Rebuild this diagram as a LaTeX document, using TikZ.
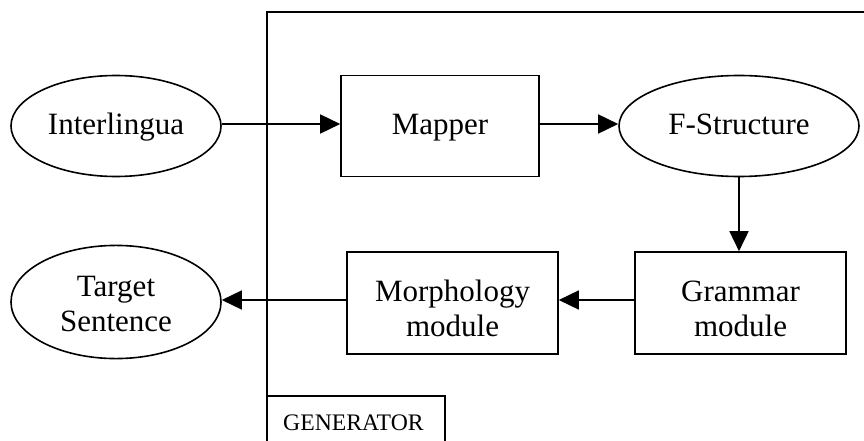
\documentclass[tikz,border=0pt]{standalone}
\usepackage{fontspec}
\setmainfont{Liberation Serif}
\usetikzlibrary{shapes.geometric,arrows.meta}
\newcommand{\twol}[2]{\begin{tabular}[t]{@{}c@{}}#1\\#2\end{tabular}}
\tikzset{
  every node/.style={font=\fontsize{31}{35}\selectfont, inner sep=0pt},
  oneline/.style={text height=22pt, text depth=4pt},
  twoline/.style={text height=36pt, text depth=40pt},
  ell/.style={draw, ellipse, line width=1.6pt},
  boxnode/.style={draw, rectangle, line width=1.6pt},
  conn/.style={line width=1.6pt, -{Triangle[length=20pt,width=19pt]}},
  frame/.style={line width=1.6pt}
}
\begin{document}
\begin{tikzpicture}[x=1pt,y=-1pt]
\useasboundingbox (0,0) rectangle (864,441);
% generator frame
\draw[frame] (267,441) -- (267,12) -- (864,12);
\draw[frame] (267,396) -- (445,396) -- (445,441);
\node[font=\fontsize{23.7}{27}\selectfont, anchor=base west] (gen) at (283,430) {GENERATOR};
% nodes
\node[ell, oneline, minimum width=210pt, minimum height=101pt] (inter) at (116,126) {Interlingua};
\node[boxnode, oneline, minimum width=198pt, minimum height=101pt] (mapper) at (440,126) {Mapper};
\node[ell, oneline, minimum width=240pt, minimum height=101pt] (fs) at (739,126) {F-Structure};
\node[boxnode, twoline, minimum width=211pt, minimum height=102pt] (gram) at (740.5,303) {\twol{Grammar}{module}};
\node[boxnode, twoline, minimum width=211pt, minimum height=102pt] (morph) at (452.5,303) {\twol{Morphology}{module}};
\node[ell, text height=34pt, text depth=46pt, minimum width=210pt, minimum height=101pt] (target) at (116,302) {\twol{Target}{Sentence}};
% connectors
\draw[conn] (inter.east |- 0,124) -- (mapper.west |- 0,124);
\draw[conn] (mapper.east |- 0,124) -- (fs.west |- 0,124);
\draw[conn] (fs.south -| 739,0) -- (gram.north -| 739,0);
\draw[conn] (gram.west |- 0,300) -- (morph.east |- 0,300);
\draw[conn] (morph.west |- 0,300) -- (target.east |- 0,300);
\end{tikzpicture}
\end{document}
